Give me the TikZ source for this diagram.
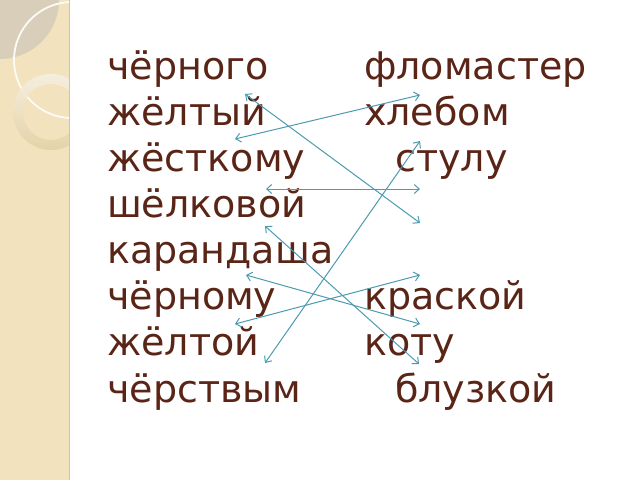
\documentclass[tikz,border=0pt]{standalone}
\usepackage{fontspec}
\setmainfont{DejaVu Sans}
\usetikzlibrary{arrows.meta}
\definecolor{txt}{RGB}{90,36,22}
\definecolor{arr}{RGB}{75,155,178}
\definecolor{strip}{RGB}{242,226,190}
\definecolor{stripedge}{RGB}{205,195,175}
\definecolor{graycap}{RGB}{216,206,186}
\definecolor{ringtop}{RGB}{246,240,226}
\definecolor{ringbot}{RGB}{228,210,165}
\begin{document}
\begin{tikzpicture}[x=1pt,y=-1pt,
  word/.style={anchor=base west, inner sep=0pt, text=txt, font=\fontsize{38}{45}\selectfont},
  link/.style={draw=arr, line width=1pt, {Straight Barb[length=5pt,width=9pt]}-{Straight Barb[length=5pt,width=9pt]}}]
\useasboundingbox (0,0) rectangle (640,480);
\fill[white] (0,0) rectangle (640,480);
% decorative strip
\begin{scope}
  \clip (0,0) rectangle (69,480);
  \fill[strip] (0,0) rectangle (69,480);
  \fill[graycap] (0,0) circle[radius=59];
  \draw[white!85!strip, line width=1.8pt] (72,60) circle[radius=58];
  \shade[top color=ringtop, bottom color=ringbot, even odd rule, opacity=0.9]
    (51,112) circle[radius=38] (51,112) circle[radius=28];
\end{scope}
\draw[stripedge, line width=1.5pt] (69.5,0) -- (69.5,480);
% words, left column
\node[word] (l1) at (107,79) {чёрного};
\node[word] (l2) at (107,125) {жёлтый};
\node[word] (l3) at (107,171) {жёсткому};
\node[word] (l4) at (107,217) {шёлковой};
\node[word] (l5) at (107,263.5) {карандаша};
\node[word] (l6) at (107,309.5) {чёрному};
\node[word] (l7) at (107,355.5) {жёлтой};
\node[word] (l8) at (107,402) {чёрствым};
% words, right column
\node[word] (r1) at (364,79) {фломастер};
\node[word] (r2) at (364,125) {хлебом};
\node[word] (r3) at (395,171) {стулу};
\node[word] (r6) at (364,309.5) {краской};
\node[word] (r7) at (364,355.5) {коту};
\node[word] (r8) at (395,402) {блузкой};
% arrow ends
\coordinate (a1s) at (245,94);  \coordinate (a1e) at (420,223);
\coordinate (a2s) at (235,139); \coordinate (a2e) at (420,95);
\coordinate (a3s) at (266,189); \coordinate (a3e) at (420,189);
\coordinate (a4s) at (265,363); \coordinate (a4e) at (420,141);
\coordinate (a5s) at (265,226); \coordinate (a5e) at (419,364);
\coordinate (a6s) at (246,275); \coordinate (a6e) at (420,324);
\coordinate (a7s) at (235,324); \coordinate (a7e) at (420,275);
\draw[link] (a1s) -- (a1e);
\draw[link] (a2s) -- (a2e);
\draw[link] (a3s) -- (a3e);
\draw[link] (a4s) -- (a4e);
\draw[link] (a5s) -- (a5e);
\draw[link] (a6s) -- (a6e);
\draw[link] (a7s) -- (a7e);
\end{tikzpicture}
\end{document}
